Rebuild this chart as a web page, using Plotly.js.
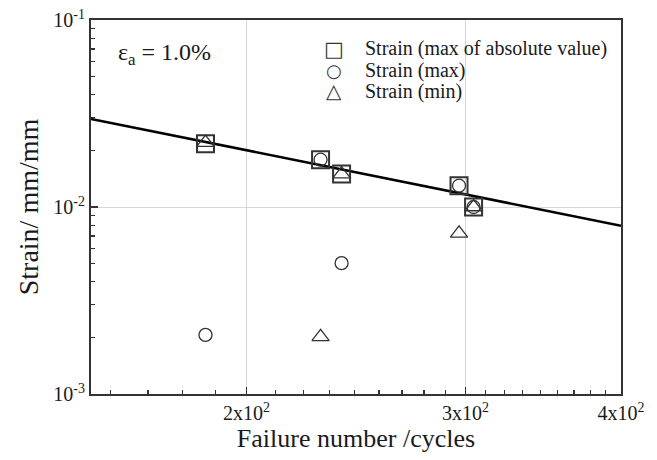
<!DOCTYPE html>
<html>
<head>
<meta charset="utf-8">
<script src="https://cdn.plot.ly/plotly-3.0.1.min.js"></script>
<style>html,body{margin:0;padding:0;background:#fff;}#chart{width:657px;height:460px;}</style>
</head>
<body>
<div id="chart"></div>
<script>
// Data
const cycles = [185.4, 229.4, 238.5, 296.4, 304.5];
const strainAbsMax = [0.0218, 0.0179, 0.0150, 0.0130, 0.0100];
const strainMax = [0.00207, 0.0179, 0.00501, 0.0130, 0.0100];
const strainMin = [0.0221, 0.00202, 0.0150, 0.00723, 0.0100];
const fitCycles = [150, 400];
const fitStrain = [0.0296, 0.00794];

const seriesNames = ['Strain (max of absolute value)', 'Strain (max)', 'Strain (min)'];
const seriesGlyphs = ['\u25A1', '\u25CB', '\u25B3'];
const amplitudeLabel = 'ε<sub>a</sub> = 1.0%';

const xTickVals = [200, 300, 400];
const xTickText = ['2x10<sup>2</sup>', '3x10<sup>2</sup>', '4x10<sup>2</sup>'];
const yTickVals = [0.001, 0.01, 0.1];
const yTickText = ['10<sup>-3</sup>', '10<sup>-2</sup>', '10<sup>-1</sup>'];

// minor ticks
const xMinor = [];
for (let d = 100; d <= 300; d += 100) {
  for (let k = 1; k <= 8; k++) {
    const v = d + k * 100 / 9;
    if (v > 150 && v < 400) xMinor.push(v);
  }
}
const yMinor = [];
[0.001, 0.01].forEach(function (d) { for (let k = 2; k <= 9; k++) yMinor.push(d * k); });

const font = 'Liberation Serif, Times New Roman, serif';
const ink = '#333333';
const txt = '#1a1a1a';

const traces = [
  {x: fitCycles, y: fitStrain, mode: 'lines', line: {color: '#000', width: 2.5}, showlegend: false, hoverinfo: 'skip'},
  {x: cycles, y: strainAbsMax, mode: 'markers', name: seriesNames[0], showlegend: false,
   marker: {symbol: 'square-open', size: 17, color: ink, line: {color: ink, width: 2}}},
  {x: cycles, y: strainMax, mode: 'markers', name: seriesNames[1], showlegend: false,
   marker: {symbol: 'circle-open', size: 13, color: ink, line: {color: ink, width: 1.3}}},
  {x: cycles, y: strainMin, mode: 'markers', name: seriesNames[2], showlegend: false,
   marker: {symbol: 'triangle-up-open', size: 15, color: ink, line: {color: ink, width: 1.3}}}
];

// legend built as annotations (symbol + name per row)
const legendRowsY = [0.9225, 0.866, 0.8095];
const glyphSizes = [21, 18, 20];
const annotations = [];
seriesNames.forEach(function (name, i) {
  annotations.push({xref: 'paper', yref: 'paper', x: 0.4585, y: legendRowsY[i], xanchor: 'center', yanchor: 'middle',
    text: seriesGlyphs[i], showarrow: false, font: {family: 'DejaVu Sans', size: glyphSizes[i], color: ink}});
  annotations.push({xref: 'paper', yref: 'paper', x: 0.5125, y: legendRowsY[i], xanchor: 'left', yanchor: 'middle',
    text: name, showarrow: false, font: {family: font, size: 20, color: txt}});
});
annotations.push({xref: 'paper', yref: 'paper', x: 0.048, y: 0.91, xanchor: 'left', yanchor: 'middle',
  text: amplitudeLabel, showarrow: false, font: {family: font, size: 24, color: txt}});

const layout = {
  width: 657, height: 460,
  margin: {l: 91, r: 36, t: 20, b: 66},
  paper_bgcolor: '#fff', plot_bgcolor: '#fff',
  font: {family: font, color: txt, size: 20},
  showlegend: false,
  xaxis: {
    type: 'log', range: [Math.log10(150), Math.log10(400)],
    tickmode: 'array', tickvals: xTickVals, ticktext: xTickText,
    ticks: 'inside', ticklen: 7, tickwidth: 1.5, tickcolor: ink,
    showline: true, linecolor: ink, linewidth: 2, mirror: true,
    showgrid: true, gridcolor: '#d6d6d6', gridwidth: 1,
    zeroline: false,
    minor: {tickvals: xMinor, ticks: 'inside', ticklen: 4, tickwidth: 1.2, tickcolor: ink, showgrid: false},
    tickfont: {family: font, size: 20, color: txt},
    title: {text: 'Failure number /cycles', font: {family: font, size: 26, color: txt}, standoff: 5}
  },
  yaxis: {
    type: 'log', range: [-3, -1],
    tickmode: 'array', tickvals: yTickVals, ticktext: yTickText,
    ticks: 'inside', ticklen: 7, tickwidth: 1.5, tickcolor: ink,
    showline: true, linecolor: ink, linewidth: 2, mirror: true,
    showgrid: true, gridcolor: '#d6d6d6', gridwidth: 1,
    zeroline: false,
    minor: {tickvals: yMinor, ticks: 'inside', ticklen: 4, tickwidth: 1.2, tickcolor: ink, showgrid: false},
    tickfont: {family: font, size: 20, color: txt},
    title: {text: 'Strain/ mm/mm\u00a0\u00a0\u00a0', font: {family: font, size: 28, color: txt}, standoff: 7}
  },
  annotations: annotations
};

Plotly.newPlot('chart', traces, layout, {displayModeBar: false, staticPlot: true});
</script>
</body>
</html>
